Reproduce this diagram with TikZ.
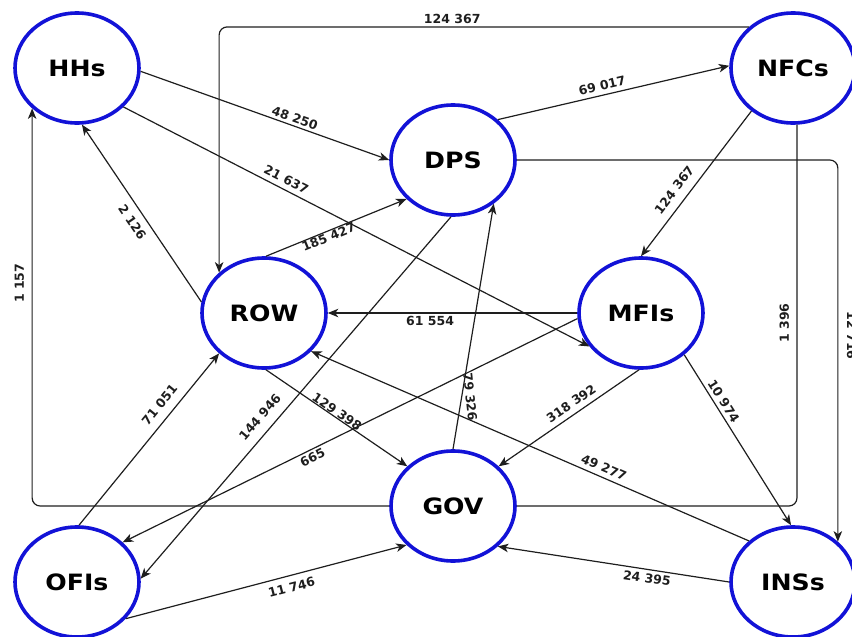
\documentclass[tikz,border=0pt]{standalone}
\usepackage{fontspec}
\usepackage{tikz}
\usetikzlibrary{arrows.meta, shapes.geometric}
\newfontfamily\sectorfont[FakeStretch=1.12]{DejaVu Sans}
\newfontfamily\amtfont{DejaVu Sans}
\definecolor{sectorBlue}{RGB}{18,18,215}
\definecolor{flowInk}{RGB}{30,30,30}

\begin{document}
\begin{tikzpicture}[x=1pt, y=-1pt,
    sector/.style={ellipse, draw=sectorBlue, line width=3.6pt, fill=white, minimum width=124pt, minimum height=110pt, inner sep=0pt, font=\sectorfont\bfseries\fontsize{22.5}{24}\selectfont},
    link/.style={draw=flowInk, line width=1.2pt},
    flow/.style={link, -{Stealth[length=10.5pt, width=8.5pt, inset=3pt]}},
    amt/.style={font=\amtfont\bfseries\fontsize{12.5}{13}\selectfont, text=flowInk, inner sep=1pt}
  ]
    \useasboundingbox (0,0) rectangle (852,637);

    \node[sector] (hhs) at (77,68) {HHs};
    \node[sector] (dps) at (453,160) {DPS};
    \node[sector] (nfcs) at (793,68) {NFCs};
    \node[sector] (row) at (264,313) {ROW};
    \node[sector] (mfis) at (641,313) {MFIs};
    \node[sector] (gov) at (453,506) {GOV};
    \node[sector] (ofis) at (77,582) {OFIs};
    \node[sector] (inss) at (793,582) {INSs};

    \draw[flow, rounded corners=8pt] (nfcs.137) -| node[amt, pos=0.28, above, outer sep=2pt] {124 367} (row.138);
    \draw[flow, rounded corners=8pt] (gov.west) -| node[amt, pos=0.78, rotate=90, anchor=south, outer sep=7pt] {1 157} (hhs.222);
    \draw[flow, rounded corners=8pt] (dps.east) -| node[amt, pos=0.73, rotate=-90, anchor=south, outer sep=8pt] {12 716} (inss.42);
    \draw[link, rounded corners=8pt] (nfcs.-86) |- node[amt, pos=0.26, rotate=90, anchor=south, outer sep=7pt] {1 396} (gov.east);

    \draw[flow] (hhs.-3) -- node[amt, sloped, pos=0.61, above, outer sep=2pt] {48 250} (dps.180);
    \draw[flow] (hhs.-40) -- node[amt, sloped, pos=0.34, above, outer sep=4pt] {21 637} (mfis.213);
    \draw[flow] (row.170) -- node[amt, sloped, pos=0.49, below, outer sep=7pt] {2 126} (hhs.-85);
    \draw[flow] (row.88) -- node[amt, sloped, pos=0.43, below, outer sep=0pt] {185 427} (dps.220);
    \draw[flow] (dps.42) -- node[amt, sloped, pos=0.46, above, outer sep=4pt] {69 017} (nfcs.178);
    \draw[flow] (nfcs.226) -- node[amt, sloped, pos=0.6, above, outer sep=8pt] {124 367} (mfis.90);
    \draw[flow] (mfis.west) -- node[amt, pos=0.59, below, outer sep=2pt] {61 554} (row.east);
    \draw[flow] (mfis.185) -- node[amt, sloped, pos=0.59, below, outer sep=2pt] {665} (ofis.41);
    \draw[flow] (dps.-92) -- node[amt, sloped, pos=0.58, above, outer sep=9pt] {144 946} (ofis.3);
    \draw[flow] (row.-88) -- node[amt, sloped, pos=0.48, above, outer sep=0pt] {129 398} (gov.139);
    \draw[flow] (gov.90) -- node[amt, pos=0.21, rotate=-84, anchor=south, outer sep=3pt] {79 326} (dps.-47);
    \draw[flow] (mfis.-92) -- node[amt, sloped, pos=0.44, above, outer sep=5pt] {318 392} (gov.41);
    \draw[flow] (mfis.-44) -- node[amt, sloped, pos=0.3, above, outer sep=3pt] {10 974} (inss.92);
    \draw[flow] (inss.137) -- node[amt, sloped, pos=0.34, above, outer sep=4pt] {49 277} (row.-39);
    \draw[flow] (inss.west) -- node[amt, sloped, pos=0.35, below, outer sep=3pt] {24 395} (gov.-42);
    \draw[flow] (ofis.88) -- node[amt, sloped, pos=0.65, above, outer sep=8pt] {71 051} (row.222);
    \draw[flow] (ofis.-37) -- node[amt, sloped, pos=0.58, below, outer sep=6pt] {11 746} (gov.220);
  \end{tikzpicture}
\end{document}
